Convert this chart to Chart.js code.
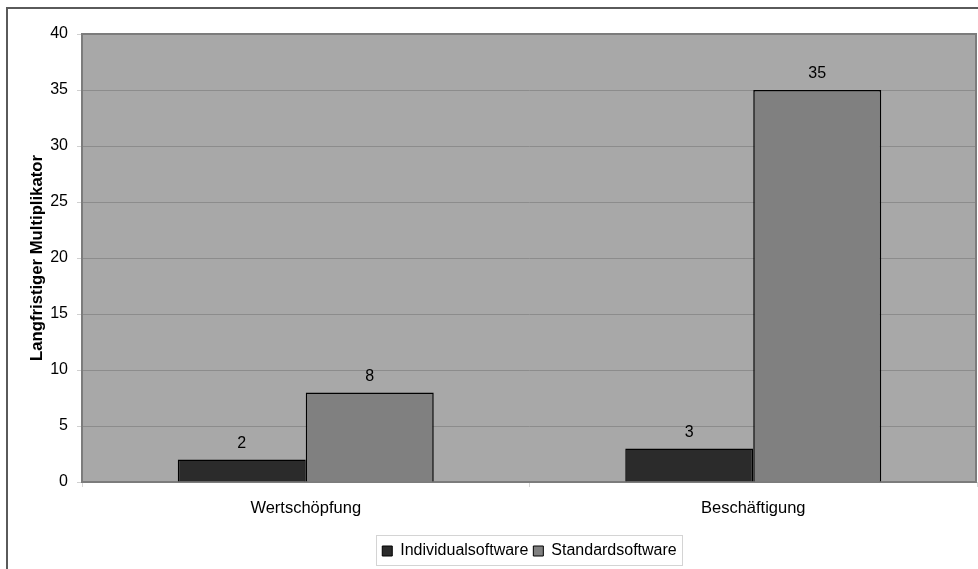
<!DOCTYPE html>
<html lang="de">
<head>
<meta charset="utf-8">
<title>Langfristiger Multiplikator</title>
<script src="https://cdn.jsdelivr.net/npm/chart.js@4.4.1/dist/chart.umd.min.js"></script>
<style>
  html, body { margin: 0; padding: 0; background: #ffffff; }
  #wrap { width: 978px; height: 569px; position: relative; }
</style>
</head>
<body>
<div id="wrap"><canvas id="chart" width="978" height="569"></canvas></div>
<script>
// Categories and series values
const categories = ['Wertschöpfung', 'Beschäftigung'];
const individualsoftware = [2, 3];
const standardsoftware = [8, 35];
const yTicks = [0, 5, 10, 15, 20, 25, 30, 35, 40];
const seriesNames = ['Individualsoftware', 'Standardsoftware'];
const yTitle = 'Langfristiger Multiplikator';

const FONT = '"Liberation Sans", Arial, Helvetica, sans-serif';
const LEGEND_PAD = 5;

// Grey plot background, plot frame, outer frame, legend placement and legend box
const framePlugin = {
  id: 'frames',
  afterUpdate(chart) {
    // centre the legend under the plot area rather than the whole canvas
    const lg = chart.legend;
    if (lg && chart.chartArea) {
      lg.left = chart.chartArea.left;
      lg.right = chart.chartArea.right;
      lg.width = lg.right - lg.left;
    }
  },
  beforeDraw(chart) {
    const { ctx, chartArea: a } = chart;
    ctx.save();
    ctx.fillStyle = '#a8a8a8';
    ctx.fillRect(a.left, a.top, a.right - a.left, a.bottom - a.top);
    ctx.restore();
  },
  beforeDatasetsDraw(chart) {
    const { ctx, chartArea: a } = chart;
    ctx.save();
    ctx.strokeStyle = '#7c7c7c';
    ctx.lineWidth = 2;
    ctx.strokeRect(a.left, a.top, a.right - a.left - 1, a.bottom - a.top);
    ctx.restore();
  },
  afterDraw(chart) {
    const { ctx } = chart;
    ctx.save();
    // outer frame
    ctx.strokeStyle = '#5a5a5a';
    ctx.lineWidth = 2;
    ctx.strokeRect(7, 8, chart.width + 10, chart.height + 10);
    // box around the legend row
    const lg = chart.legend;
    if (lg && lg.lineWidths && lg.lineWidths.length) {
      const lw = lg.lineWidths[0];
      const x0 = (lg.left + LEGEND_PAD + lg.right - lw) / 2;
      const l = x0 - 6;
      const r = x0 + lw - LEGEND_PAD + 6;
      const itemTop = lg.top + LEGEND_PAD;
      const t = itemTop - 8;
      const b = itemTop + 16 + 6;
      ctx.strokeStyle = '#d4d4d4';
      ctx.lineWidth = 1;
      ctx.strokeRect(Math.round(l) + 0.5, Math.round(t) + 0.5, Math.round(r - l), Math.round(b - t));
    }
    ctx.restore();
  }
};

// Value labels above each bar
const valueLabels = {
  id: 'valueLabels',
  afterDatasetsDraw(chart) {
    const { ctx } = chart;
    ctx.save();
    ctx.font = '16px ' + FONT;
    ctx.fillStyle = '#000000';
    ctx.textAlign = 'center';
    ctx.textBaseline = 'bottom';
    chart.data.datasets.forEach((ds, i) => {
      const meta = chart.getDatasetMeta(i);
      meta.data.forEach((bar, j) => {
        ctx.fillText(String(ds.data[j]), bar.x, bar.y - 8);
      });
    });
    ctx.restore();
  }
};

new Chart(document.getElementById('chart'), {
  type: 'bar',
  data: {
    labels: categories,
    datasets: [
      {
        label: seriesNames[0],
        data: individualsoftware,
        backgroundColor: '#2b2b2b',
        borderColor: '#000000',
        borderWidth: 1.5,
        categoryPercentage: 0.572,
        barPercentage: 1.0
      },
      {
        label: seriesNames[1],
        data: standardsoftware,
        backgroundColor: '#808080',
        borderColor: '#000000',
        borderWidth: 1.5,
        categoryPercentage: 0.572,
        barPercentage: 1.0
      }
    ]
  },
  options: {
    responsive: false,
    animation: false,
    devicePixelRatio: 1,
    layout: { padding: { left: 0, right: 1, top: 34, bottom: 0 } },
    plugins: {
      tooltip: { enabled: false },
      legend: {
        position: 'bottom',
        labels: {
          boxWidth: 10,
          boxHeight: 10,
          padding: LEGEND_PAD,
          color: '#000000',
          font: { family: FONT, size: 16 },
          generateLabels(chart) {
            return chart.data.datasets.map((ds, i) => ({
              text: ds.label,
              fillStyle: ds.backgroundColor,
              strokeStyle: '#000000',
              lineWidth: 1,
              hidden: false,
              datasetIndex: i
            }));
          }
        }
      }
    },
    scales: {
      x: {
        offset: true,
        grid: {
          display: true,
          offset: true,
          drawOnChartArea: false,
          tickLength: 5,
          tickColor: '#d6d6d6'
        },
        border: { display: false },
        ticks: {
          color: '#000000',
          padding: 12,
          font: { family: FONT, size: 16.5 }
        },
        afterFit(scale) { scale.height = 56; }
      },
      y: {
        min: 0,
        max: 40,
        afterBuildTicks(scale) { scale.ticks = yTicks.map(v => ({ value: v })); },
        grid: {
          color: '#8c8c8c',
          lineWidth: 1,
          tickLength: 5,
          tickColor: '#d0d0d0'
        },
        border: { display: false },
        ticks: {
          color: '#000000',
          padding: 9,
          font: { family: FONT, size: 16 }
        },
        title: {
          display: true,
          text: yTitle,
          color: '#000000',
          padding: { top: 27, bottom: 0 },
          font: { family: FONT, size: 16.7, weight: 'bold' }
        },
        afterFit(scale) { scale.width = 82; }
      }
    }
  },
  plugins: [framePlugin, valueLabels]
});
</script>
</body>
</html>
